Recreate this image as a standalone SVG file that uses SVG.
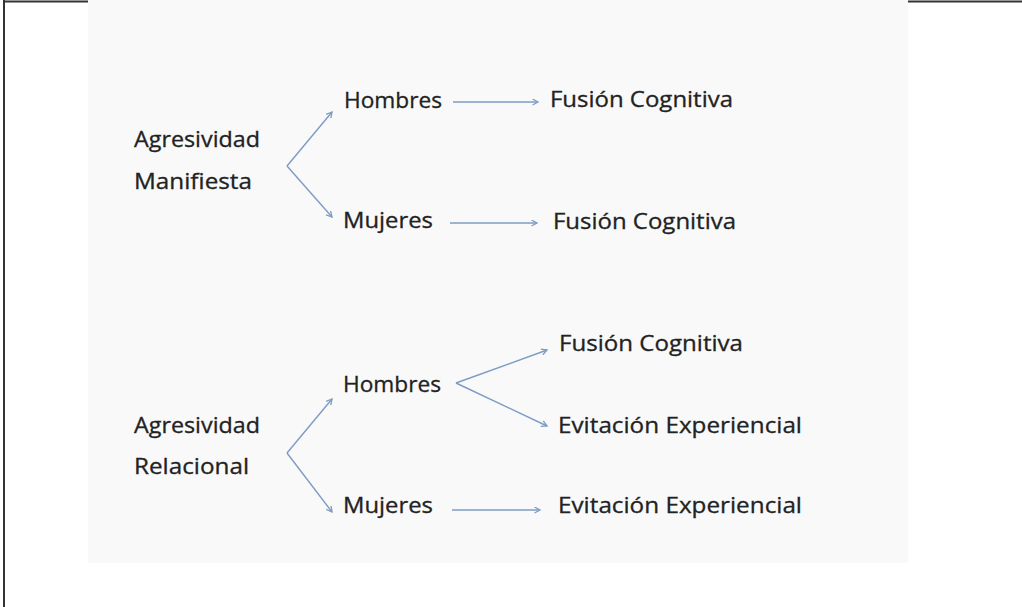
<svg xmlns="http://www.w3.org/2000/svg" width="1022" height="607" viewBox="0 0 1022 607">
<defs>
<style>
.t{font-family:"Open Sans","Liberation Sans",sans-serif;font-size:21.5px;fill:#222222;stroke:#222222;stroke-width:0.3}
.c{fill:none;stroke:#7d9cc4;stroke-width:1.4;marker-end:url(#ah)}
</style>
<marker id="ah" markerUnits="userSpaceOnUse" markerWidth="10" markerHeight="10" refX="7" refY="3.5" orient="auto">
<path d="M1.5,0.5 L7,3.5 L1.5,6.5" fill="none" stroke="#7d9cc4" stroke-width="1.3"/>
</marker>
</defs>
<rect x="0" y="0" width="1022" height="607" fill="#ffffff"/>
<rect x="88" y="0" width="820" height="563" fill="#f9f9f9"/>
<g id="frame" stroke="#333" stroke-width="2" fill="none">
<line x1="4" y1="0" x2="4" y2="607"/>
<line x1="3" y1="1.5" x2="88" y2="1.5"/>
<line x1="908" y1="1.5" x2="1022" y2="1.5"/>
</g>
<g id="connectors">
<line class="c" x1="287" y1="166" x2="332" y2="112"/>
<line class="c" x1="287" y1="166" x2="332" y2="217"/>
<line class="c" x1="453" y1="102" x2="538" y2="102"/>
<line class="c" x1="450" y1="223" x2="537" y2="223"/>
<line class="c" x1="287" y1="453" x2="332" y2="399"/>
<line class="c" x1="287" y1="453" x2="332" y2="512"/>
<line class="c" x1="456" y1="383" x2="547" y2="350"/>
<line class="c" x1="456" y1="383" x2="547" y2="426"/>
<line class="c" x1="452" y1="510" x2="540" y2="510"/>
</g>
<g id="n-agresividad-manifiesta">
<text class="t" x="134" y="147" textLength="126" lengthAdjust="spacingAndGlyphs">Agresividad</text>
<text class="t" x="134" y="189" textLength="118" lengthAdjust="spacingAndGlyphs">Manifiesta</text>
</g>
<g id="n-hombres-1"><text class="t" x="344" y="108" textLength="98" lengthAdjust="spacingAndGlyphs">Hombres</text></g>
<g id="n-mujeres-1"><text class="t" x="343" y="228" textLength="90" lengthAdjust="spacingAndGlyphs">Mujeres</text></g>
<g id="n-fusion-1"><text class="t" x="550" y="107" textLength="183" lengthAdjust="spacingAndGlyphs">Fusión Cognitiva</text></g>
<g id="n-fusion-2"><text class="t" x="553" y="229" textLength="183" lengthAdjust="spacingAndGlyphs">Fusión Cognitiva</text></g>
<g id="n-agresividad-relacional">
<text class="t" x="134" y="433" textLength="126" lengthAdjust="spacingAndGlyphs">Agresividad</text>
<text class="t" x="134" y="474" textLength="115" lengthAdjust="spacingAndGlyphs">Relacional</text>
</g>
<g id="n-hombres-2"><text class="t" x="343" y="392" textLength="98" lengthAdjust="spacingAndGlyphs">Hombres</text></g>
<g id="n-mujeres-2"><text class="t" x="343" y="513" textLength="90" lengthAdjust="spacingAndGlyphs">Mujeres</text></g>
<g id="n-fusion-3"><text class="t" x="559" y="351" textLength="184" lengthAdjust="spacingAndGlyphs">Fusión Cognitiva</text></g>
<g id="n-evitacion-1"><text class="t" x="558" y="433" textLength="244" lengthAdjust="spacingAndGlyphs">Evitación Experiencial</text></g>
<g id="n-evitacion-2"><text class="t" x="558" y="513" textLength="244" lengthAdjust="spacingAndGlyphs">Evitación Experiencial</text></g>
</svg>
